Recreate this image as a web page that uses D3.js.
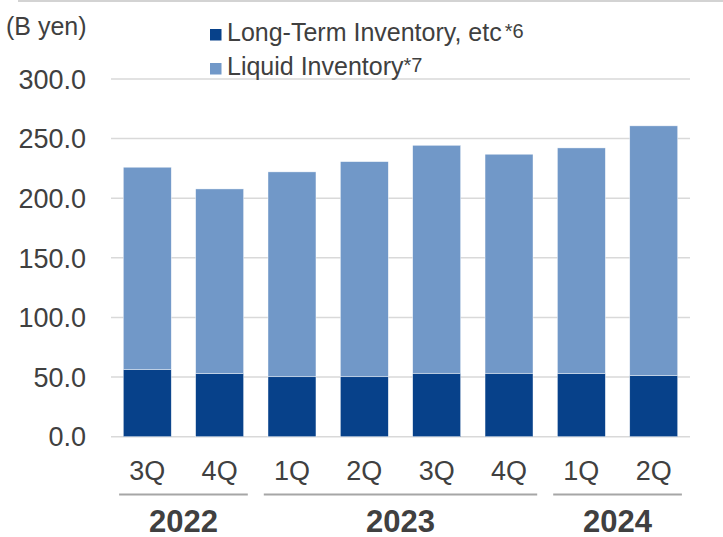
<!DOCTYPE html>
<html lang="en">
<head>
  <meta charset="UTF-8">
  <title>Inventory</title>
  <script src="https://d3js.org/d3.v7.min.js"></script>
  <style>
    body {
      margin: 0;
      background: #fff;
      font-family: "Liberation Sans", Arial, sans-serif;
    }
    text {
      fill: #404040;
    }
  </style>
</head>
<body>
  <div id="chart"></div>
  <script>
    // data
    const quarters = ["3Q", "4Q", "1Q", "2Q", "3Q", "4Q", "1Q", "2Q"];
    const periods = ["2022-3Q", "2022-4Q", "2023-1Q", "2023-2Q", "2023-3Q", "2023-4Q", "2024-1Q", "2024-2Q"];
    const longTerm = [56.2, 52.9, 50.3, 50.3, 53.2, 53.2, 52.9, 51.2];
    const liquid = [169.8, 154.9, 171.8, 180.4, 191.2, 183.7, 189.3, 209.5];
    const years = ["2022", "2023", "2024"];
    const yearCounts = [2, 4, 2];
    const yTicks = [0, 50, 100, 150, 200, 250, 300];

    const W = 723, H = 537;
    const colors = {longTerm: "#07418a", liquid: "#7198c8"};

    const svg = d3.select("#chart")
      .append("svg")
      .attr("width", W)
      .attr("height", H);

    const x = d3.scaleBand()
      .domain(periods)
      .range([111, 690])
      .paddingInner(0.337)
      .paddingOuter(0.17);

    const y = d3.scaleLinear()
      .domain([0, 300])
      .range([436.7, 79]);

    // top rule
    svg.append("line")
      .attr("x1", 18).attr("x2", W)
      .attr("y1", 1).attr("y2", 1)
      .attr("stroke", "#c4c4c4")
      .attr("stroke-width", 1.5);

    // gridlines
    svg.selectAll(".grid")
      .data(yTicks)
      .enter().append("line")
      .attr("x1", 111).attr("x2", 690)
      .attr("y1", d => y(d)).attr("y2", d => y(d))
      .attr("stroke", "#d9d9d9")
      .attr("stroke-width", 1.5);

    // y labels
    svg.selectAll(".ylab")
      .data(yTicks)
      .enter().append("text")
      .attr("x", 86)
      .attr("y", d => y(d))
      .attr("dy", "0.36em")
      .attr("text-anchor", "end")
      .style("font-size", "27px")
      .text(d => d3.format(".1f")(d));

    svg.append("text")
      .attr("x", 6).attr("y", 35)
      .style("font-size", "25px")
      .text("(B yen)");

    // stacked bars
    const rows = periods.map((p, i) => ({period: p, longTerm: longTerm[i], liquid: liquid[i]}));
    const stack = d3.stack().keys(["longTerm", "liquid"])(rows);

    svg.selectAll(".series")
      .data(stack)
      .enter().append("g")
      .attr("fill", d => colors[d.key])
      .selectAll("rect")
      .data(d => d)
      .enter().append("rect")
      .attr("x", d => x(d.data.period))
      .attr("width", x.bandwidth())
      .attr("y", d => y(d[1]))
      .attr("height", d => y(d[0]) - y(d[1]))
      .attr("stroke", "#fff")
      .attr("stroke-width", 0.6)
      .attr("stroke-opacity", 0.7);

    // quarter labels
    svg.selectAll(".qlab")
      .data(periods)
      .enter().append("text")
      .attr("x", d => x(d) + x.bandwidth() / 2)
      .attr("y", 479.5)
      .attr("text-anchor", "middle")
      .style("font-size", "27px")
      .text((d, i) => quarters[i]);

    // year groups
    const half = x.step() / 2;
    let start = 0;
    years.forEach((yr, i) => {
      const first = periods[start];
      const last = periods[start + yearCounts[i] - 1];
      const c0 = x(first) + x.bandwidth() / 2 - half;
      const c1 = x(last) + x.bandwidth() / 2 + half;
      const x0 = c0 + 8, x1 = c1 - 8;
      svg.append("line")
        .attr("x1", x0).attr("x2", x1)
        .attr("y1", 494.5).attr("y2", 494.5)
        .attr("stroke", "#a6a6a6")
        .attr("stroke-width", 2);
      svg.append("text")
        .attr("x", (x0 + x1) / 2)
        .attr("y", 531.5)
        .attr("text-anchor", "middle")
        .style("font-size", "31px")
        .style("font-weight", "bold")
        .text(yr);
      start += yearCounts[i];
    });

    // legend
    const legend = [
      {key: "longTerm", label: "Long-Term Inventory, etc", note: "*6", gap: 3, y: 41},
      {key: "liquid", label: "Liquid Inventory", note: "*7", gap: 0, y: 75}
    ];
    legend.forEach(l => {
      svg.append("rect")
        .attr("x", 210).attr("y", l.y - 12)
        .attr("width", 11.5).attr("height", 11.5)
        .attr("fill", colors[l.key]);
      const t = svg.append("text")
        .attr("x", 227).attr("y", l.y)
        .style("font-size", "25px")
        .text(l.label);
      t.append("tspan")
        .attr("dx", l.gap)
        .attr("dy", -3)
        .style("font-size", "20px")
        .text(l.note);
    });
  </script>
</body>
</html>
